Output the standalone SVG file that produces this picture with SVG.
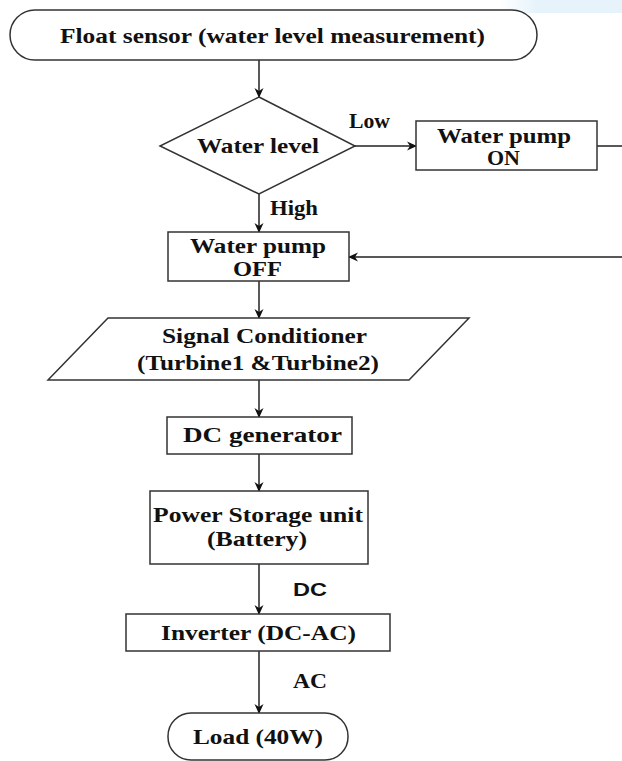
<svg xmlns="http://www.w3.org/2000/svg" width="622" height="761" viewBox="0 0 622 761">
<defs>
<marker id="ah" markerWidth="10" markerHeight="10" refX="9" refY="5" orient="auto" markerUnits="userSpaceOnUse">
<path d="M0,0.5 L10,5 L0,9.5 L3,5 Z" fill="#111"/>
</marker>
<linearGradient id="wm" x1="0" y1="0" x2="1" y2="0">
<stop offset="0" stop-color="#e6f3fb" stop-opacity="0"/>
<stop offset="0.3" stop-color="#e6f3fb" stop-opacity="1"/>
<stop offset="1" stop-color="#e6f3fb" stop-opacity="1"/>
</linearGradient>
</defs>
<style>
.n{fill:#fff;stroke:#333;stroke-width:1.5}
.t{font-family:"Liberation Serif","Times New Roman",serif;font-weight:bold;font-size:21px;fill:#111}
.s{font-family:"Liberation Sans",Arial,sans-serif;font-weight:bold;font-size:18px;fill:#111}
.c{fill:none;stroke:#222;stroke-width:1.5}
</style>
<rect x="0" y="0" width="622" height="761" fill="#fff"/>
<rect x="500" y="0" width="122" height="13" fill="url(#wm)"/>
<g id="connectors">
<line class="c" x1="259" y1="60" x2="259" y2="97" marker-end="url(#ah)"/>
<line class="c" x1="355" y1="146" x2="416" y2="146" marker-end="url(#ah)"/>
<path class="c" d="M597,146 H640 V257 H349" marker-end="url(#ah)"/>
<line class="c" x1="259" y1="194" x2="259" y2="232" marker-end="url(#ah)"/>
<line class="c" x1="259" y1="281" x2="259" y2="318" marker-end="url(#ah)"/>
<line class="c" x1="259" y1="380" x2="259" y2="417" marker-end="url(#ah)"/>
<line class="c" x1="259" y1="454" x2="259" y2="491" marker-end="url(#ah)"/>
<line class="c" x1="259" y1="564" x2="259" y2="614" marker-end="url(#ah)"/>
<line class="c" x1="259" y1="651" x2="259" y2="713" marker-end="url(#ah)"/>
<text class="t" x="349" y="128" textLength="41" lengthAdjust="spacingAndGlyphs">Low</text>
<text class="t" x="270" y="215" textLength="48" lengthAdjust="spacingAndGlyphs">High</text>
<text class="s" x="293" y="596" textLength="34" lengthAdjust="spacingAndGlyphs">DC</text>
<text class="t" x="293" y="688" textLength="34" lengthAdjust="spacingAndGlyphs">AC</text>
</g>
<g id="start">
<rect class="n" x="10" y="10" width="527" height="50" rx="25"/>
<text class="t" x="60" y="43" style="font-size:22px" textLength="425" lengthAdjust="spacingAndGlyphs">Float sensor (water level measurement)</text>
</g>
<g id="decision">
<polygon class="n" points="259,97 355,146 259,194 160,146"/>
<text class="t" x="197" y="153" textLength="122" lengthAdjust="spacingAndGlyphs">Water level</text>
</g>
<g id="pump-on">
<rect class="n" x="416" y="121" width="181" height="49"/>
<text class="t" x="437" y="143" textLength="134" lengthAdjust="spacingAndGlyphs">Water pump</text>
<text class="t" x="487" y="165" textLength="33" lengthAdjust="spacingAndGlyphs">ON</text>
</g>
<g id="pump-off">
<rect class="n" x="168" y="232" width="181" height="49"/>
<text class="t" x="190" y="253" textLength="136" lengthAdjust="spacingAndGlyphs">Water pump</text>
<text class="t" x="233" y="276" textLength="49" lengthAdjust="spacingAndGlyphs">OFF</text>
</g>
<g id="signal-conditioner">
<polygon class="n" points="108,318 469,318 409,380 48,380"/>
<text class="t" x="162" y="343" textLength="205" lengthAdjust="spacingAndGlyphs">Signal Conditioner</text>
<text class="t" x="137" y="370" textLength="242" lengthAdjust="spacingAndGlyphs">(Turbine1 &amp;Turbine2)</text>
</g>
<g id="dc-generator">
<rect class="n" x="167" y="417" width="185" height="37"/>
<text class="t" x="183" y="442" textLength="159" lengthAdjust="spacingAndGlyphs">DC generator</text>
</g>
<g id="power-storage">
<rect class="n" x="150" y="491" width="218" height="73"/>
<text class="t" x="153" y="522" textLength="210" lengthAdjust="spacingAndGlyphs">Power Storage unit</text>
<text class="t" x="207" y="546" textLength="100" lengthAdjust="spacingAndGlyphs">(Battery)</text>
</g>
<g id="inverter">
<rect class="n" x="126" y="614" width="264" height="37"/>
<text class="t" x="161" y="640" textLength="195" lengthAdjust="spacingAndGlyphs">Inverter (DC-AC)</text>
</g>
<g id="load">
<rect class="n" x="168" y="713" width="180" height="47" rx="23"/>
<text class="t" x="193" y="744" textLength="130" lengthAdjust="spacingAndGlyphs">Load (40W)</text>
</g>
</svg>
